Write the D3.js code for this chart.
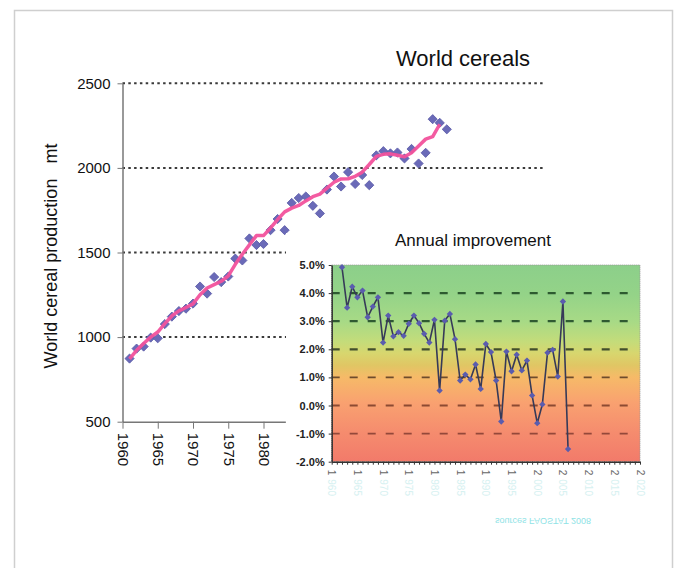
<!DOCTYPE html>
<html>
<head>
<meta charset="utf-8">
<script src="https://cdn.jsdelivr.net/npm/d3@7"></script>
<style>
  body { margin: 0; background: #fff; }
  svg { display: block; }
  text { font-family: "Liberation Sans", Arial, sans-serif; }
</style>
</head>
<body>
<svg id="chart"></svg>
<script>
const size = { w: 686, h: 568 };

// main chart, world cereal production (mt)
const years = [1961, 1962, 1963, 1964, 1965, 1966, 1967, 1968, 1969, 1970,
    1971, 1972, 1973, 1974, 1975, 1976, 1977, 1978, 1979, 1980,
    1981, 1982, 1983, 1984, 1985, 1986, 1987, 1988, 1989, 1990,
    1991, 1992, 1993, 1994, 1995, 1996, 1997, 1998, 1999, 2000,
    2001, 2002, 2003, 2004, 2005, 2006];
const production = [873, 932, 944, 997, 993, 1077, 1121, 1154, 1168, 1198,
    1299, 1257, 1355, 1325, 1358, 1464, 1453, 1583, 1544, 1550,
    1632, 1698, 1632, 1793, 1822, 1831, 1776, 1731, 1872, 1949,
    1890, 1975, 1905, 1958, 1898, 2074, 2099, 2086, 2091, 2056,
    2112, 2026, 2089, 2288, 2266, 2228];
// pink smoothed line, 1961-2005
const trend = [871, 922, 962, 1000, 1030, 1080, 1125, 1155, 1175, 1196,
    1250, 1290, 1310, 1330, 1362, 1430, 1490, 1545, 1600, 1600,
    1645, 1695, 1740, 1762, 1778, 1805, 1830, 1845, 1880, 1915,
    1935, 1936, 1950, 1975, 2020, 2068, 2080, 2083, 2075, 2066,
    2090, 2130, 2170, 2185, 2258];
const yTicks = [500, 1000, 1500, 2000, 2500];
const xTicks = [1960, 1965, 1970, 1975, 1980];

// inset, annual improvement (%), 1962-2006
const improvement = [4.92, 3.48, 4.23, 3.85, 4.09, 3.14, 3.52, 3.85, 2.24, 3.20,
    2.46, 2.61, 2.48, 2.91, 3.20, 2.93, 2.55, 2.24, 3.05, 0.53,
    3.02, 3.26, 2.36, 0.89, 1.10, 0.93, 1.46, 0.59, 2.19, 1.90,
    0.89, -0.57, 1.92, 1.22, 1.81, 1.25, 1.60, 0.36, -0.63, 0.04,
    1.88, 1.98, 1.03, 3.70, -1.55];
const insetTicks = [-2, -1, 0, 1, 2, 3, 4, 5];
const insetTickLabels = ['-2.0%', '-1.0%', '0.0%', '1.0%', '2.0%', '3.0%', '4.0%', '5.0%'];
const insetYearLabels = [1960, 1965, 1970, 1975, 1980, 1985, 1990, 1995, 2000, 2005, 2010, 2015, 2020];

const svg = d3.select('svg#chart')
    .attr('width', size.w)
    .attr('height', size.h);

// page frame
svg.append('rect')
    .attr('x', 14.5).attr('y', 10.5)
    .attr('width', 658).attr('height', 570)
    .attr('fill', 'none')
    .attr('stroke', '#cfcfcf')
    .attr('stroke-width', 1.5);

// ---------- main chart ----------
const x = d3.scaleLinear().domain([1960, 2006]).range([122.5, 446.8]);
const y = d3.scaleLinear().domain([500, 2500]).range([421.7, 83.3]);

const mainG = svg.append('g').classed('main', true);

// dotted gridlines
mainG.selectAll('line.grid')
    .data(yTicks.slice(1))
    .join('line')
    .classed('grid', true)
    .attr('x1', x(1960))
    .attr('x2', d => d >= 2000 ? 545 : 286)
    .attr('y1', d => y(d))
    .attr('y2', d => y(d))
    .attr('stroke', '#3a3a3a')
    .attr('stroke-width', 2)
    .attr('stroke-dasharray', '2.5,3.3');

// y axis
const yAxis = d3.axisLeft(y).tickValues(yTicks).tickSize(5).tickSizeOuter(0).tickPadding(7)
    .tickFormat(d3.format('d'));
const yAxisG = mainG.append('g')
    .attr('transform', `translate(${x(1960)}, 0)`)
    .call(yAxis);
yAxisG.select('.domain').attr('stroke', '#777').attr('stroke-width', 1.5);
yAxisG.selectAll('.tick line').attr('stroke', '#777');
yAxisG.selectAll('.tick text')
    .attr('font-family', '"Liberation Sans", Arial, sans-serif')
    .attr('font-size', 15)
    .attr('fill', '#111');

// x axis (only drawn to 1983, the inset covers the rest)
const xAxisScale = x.copy().domain([1960, 1983.1]).range([x(1960), x(1983.1)]);
const xAxis = d3.axisBottom(xAxisScale).tickValues(xTicks).tickSize(7).tickSizeOuter(0).tickFormat(d3.format('d'));
const xAxisG = mainG.append('g').attr('transform', `translate(0, ${y(500)})`).call(xAxis);
xAxisG.select('.domain').attr('stroke', '#777').attr('stroke-width', 1.5);
xAxisG.selectAll('.tick line').attr('stroke', '#777');
xAxisG.selectAll('.tick text')
    .attr('font-family', '"Liberation Sans", Arial, sans-serif')
    .attr('font-size', 15)
    .attr('fill', '#111')
    .attr('text-anchor', 'start')
    .attr('transform', 'rotate(90)')
    .attr('x', 11)
    .attr('y', 0)
    .attr('dy', '0.35em');

// production markers (diamonds)
mainG.selectAll('path.pt')
    .data(years.map((yr, i) => ({ yr, v: production[i] })))
    .join('path')
    .classed('pt', true)
    .attr('d', d3.symbol(d3.symbolSquare, 42))
    .attr('transform', d => `translate(${x(d.yr)}, ${y(d.v)}) rotate(45)`)
    .attr('fill', '#6a6ab8')
    .attr('stroke', '#5c5ca8')
    .attr('stroke-width', 0.8);

// pink trend line
const trendLine = d3.line()
    .x((d, i) => x(years[i]))
    .y(d => y(d));
mainG.append('path')
    .datum(trend)
    .attr('d', trendLine)
    .attr('fill', 'none')
    .attr('stroke', '#f2529c')
    .attr('stroke-width', 3.5)
    .attr('stroke-linejoin', 'round')
    .attr('opacity', 0.95);

// titles
svg.append('text')
    .attr('x', 463).attr('y', 66)
    .attr('text-anchor', 'middle')
    .attr('font-size', 22)
    .attr('fill', '#111')
    .text('World cereals');

svg.append('text')
    .attr('transform', 'translate(57, 256) rotate(-90)')
    .attr('text-anchor', 'middle')
    .attr('font-size', 18)
    .attr('fill', '#111')
    .style('white-space', 'pre')
    .text('World cereal production   mt');

// ---------- inset ----------
const insetG = svg.append('g').classed('inset', true);
insetG.append('rect')
    .attr('x', 286).attr('y', 233)
    .attr('width', 380).attr('height', 310)
    .attr('fill', '#fff');

const xi = d3.scaleLinear().domain([1960, 2020]).range([331.7, 640]);
const yi = d3.scaleLinear().domain([-2, 5]).range([461.7, 265]);

const defs = svg.append('defs');
const grad = defs.append('linearGradient')
    .attr('id', 'bgGrad')
    .attr('x1', 0).attr('y1', 0).attr('x2', 0).attr('y2', 1);
[
    [0.00, '#8ccf8a'],
    [0.15, '#94d388'],
    [0.29, '#a8da86'],
    [0.39, '#c4dc7a'],
    [0.45, '#d8d66e'],
    [0.51, '#e0c664'],
    [0.57, '#f6ba68'],
    [0.70, '#f9a170'],
    [0.85, '#f58c6e'],
    [1.00, '#f27a6a']
].forEach(s => grad.append('stop').attr('offset', s[0]).attr('stop-color', s[1]));

insetG.append('rect')
    .attr('x', xi(1960)).attr('y', yi(5))
    .attr('width', xi(2020) - xi(1960))
    .attr('height', yi(-2) - yi(5))
    .attr('fill', 'url(#bgGrad)')
    .attr('stroke', '#9a9a9a')
    .attr('stroke-width', 1)
    .attr('stroke-dasharray', '1,1');

// dashed gridlines
const gridColor = d3.scaleLinear()
    .domain([-1, 0, 1, 2, 3, 4])
    .range(['#94483a', '#8c4a32', '#6e4c2c', '#424e2c', '#2f5a32', '#2d5a30']);
insetG.selectAll('line.igrid')
    .data(insetTicks.filter(d => d > -2 && d < 5))
    .join('line')
    .classed('igrid', true)
    .attr('x1', xi(1960))
    .attr('x2', 632)
    .attr('y1', d => yi(d))
    .attr('y2', d => yi(d))
    .attr('stroke', d => gridColor(d))
    .attr('stroke-width', d => d >= 2 ? 2.2 : 1.8)
    .attr('stroke-dasharray', '8,10');

// inset axes
const yiAxis = d3.axisLeft(yi).tickValues(insetTicks).tickSize(3).tickSizeOuter(0).tickPadding(4)
    .tickFormat((d, i) => insetTickLabels[i]);
const yiAxisG = insetG.append('g').attr('transform', `translate(${xi(1960)}, 0)`).call(yiAxis);
yiAxisG.select('.domain').attr('stroke', '#333').attr('stroke-width', 1.5);
yiAxisG.selectAll('.tick line').attr('stroke', '#333');
yiAxisG.selectAll('.tick text')
    .attr('font-family', '"Liberation Sans", Arial, sans-serif')
    .attr('font-size', 11)
    .attr('font-weight', 'bold')
    .attr('fill', '#222');

const xiAxis = d3.axisBottom(xi).tickValues(d3.range(1960, 2021)).tickSize(3).tickSizeOuter(0).tickFormat('');
const xiAxisG = insetG.append('g').attr('transform', `translate(0, ${yi(-2)})`).call(xiAxis);
xiAxisG.select('.domain').attr('stroke', '#333').attr('stroke-width', 1.5);
xiAxisG.selectAll('.tick line').attr('stroke', '#333');

// faded rotated year labels
const yl = insetG.selectAll('text.yl')
    .data(insetYearLabels)
    .join('text')
    .classed('yl', true)
    .attr('transform', d => `translate(${xi(d)}, ${yi(-2) + 8}) rotate(90)`)
    .attr('dy', '0.35em')
    .attr('font-size', 10);
yl.append('tspan').attr('fill', '#666').text(d => String(d)[0]);
yl.append('tspan').attr('fill', '#d6f1f1').attr('dx', 4).text(d => String(d).slice(1));

// improvement line + markers
const impData = improvement.map((v, i) => ({ yr: years[i + 1], v }));
insetG.append('path')
    .datum(impData)
    .attr('d', d3.line().x(d => xi(d.yr)).y(d => yi(d.v)))
    .attr('fill', 'none')
    .attr('stroke', '#363a58')
    .attr('stroke-width', 1.6);
insetG.selectAll('path.ipt')
    .data(impData)
    .join('path')
    .classed('ipt', true)
    .attr('d', d3.symbol(d3.symbolSquare, 20))
    .attr('transform', d => `translate(${xi(d.yr)}, ${yi(d.v)}) rotate(45)`)
    .attr('fill', '#5a5cae');

insetG.append('text')
    .attr('x', 473).attr('y', 246)
    .attr('text-anchor', 'middle')
    .attr('font-size', 17)
    .attr('fill', '#111')
    .text('Annual improvement');

// scan-faded source note (upside down in the scan)
insetG.append('text')
    .attr('transform', 'translate(543, 521) scale(1,-1)')
    .attr('text-anchor', 'middle')
    .attr('dy', '0.35em')
    .attr('font-size', 9)
    .attr('fill', '#8fe3e6')
    .text('sources FAOSTAT 2008');
</script>
</body>
</html>
